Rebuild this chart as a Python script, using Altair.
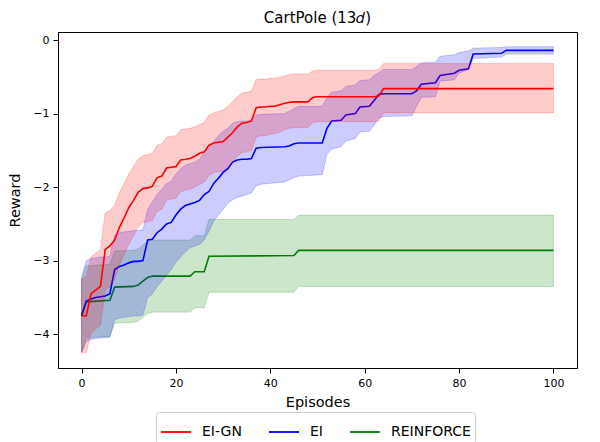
import altair as alt
import pandas as pd

SERIES = ["EI-GN", "EI", "REINFORCE"]
COLORS = ["#ff0000", "#0000ff", "#008000"]

# ---- EI-GN (red) ----
EIGN_EP = list(range(0, 51)) + [62, 63, 64, 100]
EIGN_MEAN = [-3.75, -3.75, -3.45, -3.40, -3.35, -2.85, -2.80, -2.72, -2.55, -2.42,
             -2.28, -2.18, -2.07, -2.02, -2.01, -1.99, -1.87, -1.85, -1.74, -1.73,
             -1.72, -1.63, -1.62, -1.61, -1.58, -1.54, -1.52, -1.43, -1.40, -1.39,
             -1.38, -1.32, -1.26, -1.18, -1.13, -1.12, -1.10, -0.92, -0.91, -0.91,
             -0.90, -0.90, -0.88, -0.86, -0.85, -0.84, -0.84, -0.84, -0.84, -0.78,
             -0.77, -0.77, -0.76, -0.66, -0.66]
EIGN_HI = [-3.25, -3.22, -2.95, -2.90, -2.85, -2.35, -2.32, -2.25, -2.08, -1.95,
           -1.82, -1.72, -1.62, -1.57, -1.56, -1.54, -1.43, -1.41, -1.32, -1.31,
           -1.30, -1.22, -1.21, -1.20, -1.18, -1.15, -1.12, -1.02, -0.99, -0.97,
           -0.95, -0.90, -0.84, -0.77, -0.72, -0.71, -0.69, -0.54, -0.53, -0.53,
           -0.52, -0.52, -0.51, -0.49, -0.47, -0.46, -0.46, -0.46, -0.46, -0.42,
           -0.41, -0.41, -0.40, -0.32, -0.32]
EIGN_LO = [-4.25, -4.25, -3.98, -3.93, -3.88, -3.40, -3.35, -3.25, -3.06, -2.92,
           -2.78, -2.66, -2.54, -2.48, -2.47, -2.45, -2.33, -2.30, -2.18, -2.16,
           -2.15, -2.06, -2.04, -2.03, -2.00, -1.96, -1.93, -1.84, -1.80, -1.79,
           -1.78, -1.72, -1.66, -1.58, -1.53, -1.52, -1.50, -1.32, -1.30, -1.30,
           -1.28, -1.27, -1.25, -1.22, -1.20, -1.19, -1.19, -1.19, -1.19, -1.12,
           -1.11, -1.11, -1.10, -0.99, -0.99]

# ---- EI (blue) ----
EI_EP = list(range(0, 39)) + [43, 44, 45, 46, 51, 52, 53, 55, 56, 58, 59, 61, 62,
                              63, 64, 70, 71, 72, 75, 76, 79, 80, 82, 83, 89, 90, 100]
EI_MEAN = [-3.75, -3.55, -3.52, -3.50, -3.49, -3.48, -3.45, -3.12, -3.08, -3.06,
           -3.03, -3.01, -3.01, -3.00, -2.72, -2.71, -2.62, -2.57, -2.50, -2.48,
           -2.38, -2.30, -2.25, -2.23, -2.21, -2.18, -2.10, -2.06, -1.95, -1.88,
           -1.80, -1.75, -1.66, -1.63, -1.62, -1.62, -1.61, -1.47, -1.46,
           -1.45, -1.44, -1.41, -1.40, -1.40, -1.20, -1.10, -1.09, -1.02, -1.00,
           -0.91, -0.90, -0.82, -0.74, -0.73, -0.73, -0.69, -0.60, -0.58, -0.48,
           -0.45, -0.41, -0.39, -0.19, -0.18, -0.14, -0.14]
EI_HI = [-3.22, -3.00, -2.97, -2.96, -2.95, -2.95, -2.94, -2.65, -2.62, -2.61,
         -2.60, -2.59, -2.59, -2.58, -2.30, -2.20, -2.10, -2.03, -1.95, -1.92,
         -1.82, -1.75, -1.70, -1.68, -1.66, -1.62, -1.52, -1.47, -1.38, -1.30,
         -1.24, -1.20, -1.13, -1.11, -1.10, -1.10, -1.09, -1.02, -1.01,
         -1.00, -0.97, -0.93, -0.90, -0.90, -0.78, -0.71, -0.69, -0.63, -0.61,
         -0.55, -0.54, -0.48, -0.44, -0.40, -0.40, -0.36, -0.31, -0.30, -0.22,
         -0.20, -0.17, -0.15, -0.11, -0.10, -0.09, -0.09]
EI_LO = [-4.25, -4.10, -4.07, -4.06, -4.05, -4.05, -4.04, -3.80, -3.78, -3.77,
         -3.76, -3.75, -3.75, -3.74, -3.50, -3.45, -3.35, -3.28, -3.20, -3.12,
         -3.02, -2.95, -2.88, -2.82, -2.80, -2.78, -2.72, -2.60, -2.46, -2.38,
         -2.30, -2.22, -2.17, -2.14, -2.12, -2.10, -2.08, -1.98, -1.96,
         -1.93, -1.90, -1.87, -1.85, -1.83, -1.55, -1.48, -1.45, -1.37, -1.34,
         -1.25, -1.24, -1.16, -1.06, -1.04, -1.03, -0.90, -0.78, -0.77, -0.56,
         -0.54, -0.45, -0.40, -0.25, -0.23, -0.19, -0.19]

# ---- REINFORCE (green) ----
RF_EP = [0, 1, 6, 7, 11, 12, 13, 14, 15, 23, 24, 26, 27, 45, 46, 100]
RF_MEAN = [-3.75, -3.56, -3.54, -3.36, -3.35, -3.33, -3.28, -3.23, -3.21, -3.21,
           -3.15, -3.15, -2.94, -2.93, -2.86, -2.86]
RF_HI = [-3.26, -3.07, -3.05, -2.87, -2.86, -2.84, -2.79, -2.74, -2.72, -2.72,
         -2.66, -2.66, -2.44, -2.44, -2.38, -2.38]
RF_LO = [-4.24, -4.05, -4.03, -3.85, -3.84, -3.82, -3.77, -3.72, -3.70, -3.70,
         -3.64, -3.64, -3.43, -3.43, -3.35, -3.35]

X_TICKS = [0, 20, 40, 60, 80, 100]
Y_TICKS = [-4, -3, -2, -1, 0]

rows = []
for name, ep, mean, hi, lo in [
    ("EI-GN", EIGN_EP, EIGN_MEAN, EIGN_HI, EIGN_LO),
    ("EI", EI_EP, EI_MEAN, EI_HI, EI_LO),
    ("REINFORCE", RF_EP, RF_MEAN, RF_HI, RF_LO),
]:
    assert len(ep) == len(mean) == len(hi) == len(lo), name
    for e, m, h, l in zip(ep, mean, hi, lo):
        rows.append({"series": name, "ep": e, "mean": m, "hi": h, "lo": l})
df = pd.DataFrame(rows)

FONT = "DejaVu Sans"
xscale = alt.Scale(domain=[-5, 105], nice=False, zero=False)
yscale = alt.Scale(domain=[-4.46, 0.11], nice=False, zero=False)
cscale = alt.Scale(domain=SERIES, range=COLORS)

xaxis = alt.Axis(values=X_TICKS, title="Episodes", grid=False, format="d",
                 labelPadding=4, titlePadding=7)
yaxis = alt.Axis(values=Y_TICKS, title="Reward", grid=False, format="d",
                 labelExpr="replace(datum.label, '-', '\u2212')",
                 labelPadding=4, titlePadding=10)

base = alt.Chart(df)
X = alt.X("ep:Q", scale=xscale, axis=xaxis)

legend = alt.Legend(
    orient="none", legendX=98, legendY=380, direction="horizontal",
    title=None, symbolType="stroke", symbolSize=900, symbolStrokeWidth=1.8,
    labelFont=FONT, labelFontSize=14, labelColor="black", labelOffset=10,
    columnPadding=23, padding=4, strokeColor="#cccccc", fillColor="white",
    cornerRadius=3,
)


def line_layer(name):
    return base.transform_filter(alt.datum.series == name).mark_line(
        strokeWidth=1.6, clip=True
    ).encode(
        x=X,
        y=alt.Y("mean:Q", scale=yscale, axis=yaxis),
        color=alt.Color("series:N", scale=cscale, legend=legend),
        order=alt.Order("ep:Q"),
    )


def band_layer(name):
    col = COLORS[SERIES.index(name)]
    return base.transform_filter(alt.datum.series == name).mark_area(
        fill=col, stroke=col, fillOpacity=0.2, strokeOpacity=0.2,
        strokeWidth=1, clip=True, orient="vertical"
    ).encode(
        x=X,
        y=alt.Y("lo:Q", scale=yscale, axis=yaxis),
        y2="hi:Q",
    )


chart = alt.layer(
    line_layer("REINFORCE"), band_layer("REINFORCE"),
    line_layer("EI"), band_layer("EI"),
    line_layer("EI-GN"), band_layer("EI-GN"),
).properties(
    width=519, height=336,
    title=alt.TitleParams("CartPole (13\U0001D451)", font=FONT, fontSize=15,
                          fontWeight="normal", color="black", offset=6),
    autosize=alt.AutoSizeParams(type="none"),
    padding={"left": 50, "top": 24, "right": 15, "bottom": 74},
).configure_view(
    stroke="black", strokeWidth=1
).configure_axis(
    labelFont=FONT, labelFontSize=11, labelColor="black",
    titleFont=FONT, titleFontSize=14.5, titleFontWeight="normal", titleColor="black",
    domainColor="black", domainWidth=1, tickColor="black", tickWidth=1, tickSize=5,
)

chart.save("out.html", embed_options={"renderer": "svg", "actions": False})
